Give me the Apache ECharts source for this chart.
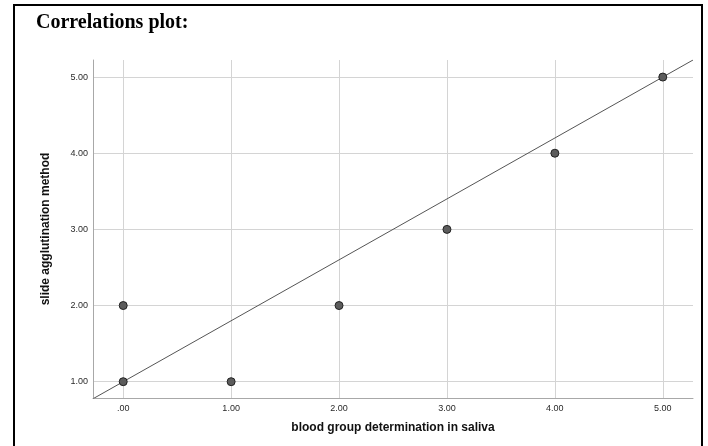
<!DOCTYPE html>
<html>
<head>
<meta charset="utf-8">
<script src="https://cdn.jsdelivr.net/npm/echarts@6/dist/echarts.min.js"></script>
<style>
html,body{margin:0;padding:0;background:#fff;}
#chart{width:708px;height:446px;}
</style>
</head>
<body>
<div id="chart"></div>
<script>
// Data
const xValues = [0, 0, 1, 2, 3, 4, 5];
const yValues = [1, 2, 1, 2, 3, 4, 5];
const xTicks = [0, 1, 2, 3, 4, 5];
const xTickLabels = ['.00', '1.00', '2.00', '3.00', '4.00', '5.00'];
const yTicks = [1, 2, 3, 4, 5];
const yTickLabels = ['1.00', '2.00', '3.00', '4.00', '5.00'];
const fitLineX = [-0.28, 5.28];
const fitLineY = [0.776, 5.224];

const points = xValues.map((x, i) => [x, yValues[i]]);
const fitLine = fitLineX.map((x, i) => [x, fitLineY[i]]);

const chart = echarts.init(document.getElementById('chart'), null, {renderer: 'canvas'});
const font = 'Arial, "Liberation Sans", sans-serif';
chart.setOption({
  animation: false,
  backgroundColor: '#fff',
  grid: {left: 93, right: 15, top: 60, bottom: 48},
  xAxis: {
    type: 'value', min: -0.28, max: 5.28,
    name: 'blood group determination in saliva',
    nameLocation: 'middle', nameGap: 24,
    nameTextStyle: {fontFamily: font, fontWeight: 'bold', fontSize: 12, color: '#111'},
    axisLine: {show: true, onZero: false, lineStyle: {color: '#a8a8a8', width: 1}},
    axisTick: {show: false, customValues: xTicks},
    axisLabel: {customValues: xTicks, fontFamily: font, fontSize: 9, color: '#2a2a2a', margin: 6,
      formatter: v => xTickLabels[xTicks.indexOf(Math.round(v))] || ''},
    splitLine: {show: true, lineStyle: {color: '#d4d4d4', width: 1}}
  },
  yAxis: {
    type: 'value', min: 0.786, max: 5.224,
    name: 'slide agglutination method',
    nameLocation: 'middle', nameGap: 41, nameRotate: 90,
    nameTextStyle: {fontFamily: font, fontWeight: 'bold', fontSize: 12, color: '#111'},
    axisLine: {show: true, onZero: false, lineStyle: {color: '#a8a8a8', width: 1}},
    axisTick: {show: false, customValues: yTicks},
    axisLabel: {customValues: yTicks, fontFamily: font, fontSize: 9, color: '#2a2a2a', margin: 5,
      formatter: v => yTickLabels[yTicks.indexOf(Math.round(v))] || ''},
    splitLine: {show: true, lineStyle: {color: '#d4d4d4', width: 1}}
  },
  series: [
    {
      type: 'line', data: fitLine, showSymbol: false, symbol: 'none',
      lineStyle: {color: '#555', width: 1}, z: 2, silent: true
    },
    {
      type: 'scatter', data: points, symbol: 'circle', symbolSize: 8,
      itemStyle: {color: '#5c5c5c', borderColor: '#222', borderWidth: 1, opacity: 1}, z: 3
    }
  ],
  graphic: [
    {type: 'rect', shape: {x: 14, y: 5, width: 688, height: 470},
     style: {fill: 'none', stroke: '#000', lineWidth: 2}, z: 10},
    {type: 'text', left: 36, top: 13,
     style: {text: 'Correlations plot:', font: 'bold 20px "Liberation Serif", "Times New Roman", serif', fill: '#000'}, z: 10}
  ]
});
</script>
</body>
</html>
